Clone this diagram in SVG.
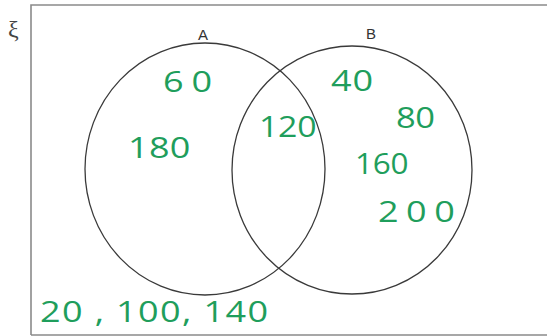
<svg xmlns="http://www.w3.org/2000/svg" width="547" height="336" viewBox="0 0 547 336">
<style>
.frame{fill:none;stroke:#8a8a8a;stroke-width:1.6}
.set{fill:none;stroke:#3a3a3a;stroke-width:1.3}
.lbl{font-family:"Liberation Sans",Arial,sans-serif;font-size:15px;fill:#333}
.num{font-family:"Open Sans","Liberation Sans",sans-serif;font-weight:400;font-size:30px;fill:#1f9e5c}
</style>
<rect width="547" height="336" fill="#ffffff"/>
<g id="universe">
<path class="frame" d="M31,335 V5 H547 M31,335 H547"/>
<text x="8" y="37" style="font-family:'Liberation Serif','DejaVu Serif',serif;font-size:24px;fill:#444">ξ</text>
</g>
<g id="setA">
<ellipse class="set" cx="205" cy="169" rx="120" ry="126"/>
<text class="lbl" x="203" y="40" text-anchor="middle">A</text>
</g>
<g id="setB">
<ellipse class="set" cx="352" cy="170" rx="120" ry="124"/>
<text class="lbl" x="371" y="39" text-anchor="middle">B</text>
</g>
<g id="elements">
<g transform="translate(163,92) scale(1.2,1)"><text class="num" x="0" y="0" textLength="41" lengthAdjust="spacing">60</text></g>
<g transform="translate(128,158) scale(1.2,1)"><text class="num" x="0" y="0" textLength="52" lengthAdjust="spacing">180</text></g>
<g transform="translate(259,137) scale(1.13,1)"><text class="num" x="0" y="0" textLength="51" lengthAdjust="spacing">120</text></g>
<g transform="translate(331,91) scale(1.2,1)"><text class="num" x="0" y="0" textLength="35" lengthAdjust="spacing">40</text></g>
<g transform="translate(396,128) scale(1.15,1)"><text class="num" x="0" y="0" textLength="34" lengthAdjust="spacing">80</text></g>
<g transform="translate(355,174) scale(1.05,1)"><text class="num" x="0" y="0" textLength="51" lengthAdjust="spacing">160</text></g>
<g transform="translate(378,222) scale(1.2,1)"><text class="num" x="0" y="0" textLength="64" lengthAdjust="spacing">200</text></g>
<g transform="translate(40,322) scale(1.2,1)"><text class="num" x="0" y="0" textLength="190" lengthAdjust="spacing">20 , 100, 140</text></g>
</g>
<rect x="287" y="305" width="260" height="28" fill="#ffffff"/>
</svg>
